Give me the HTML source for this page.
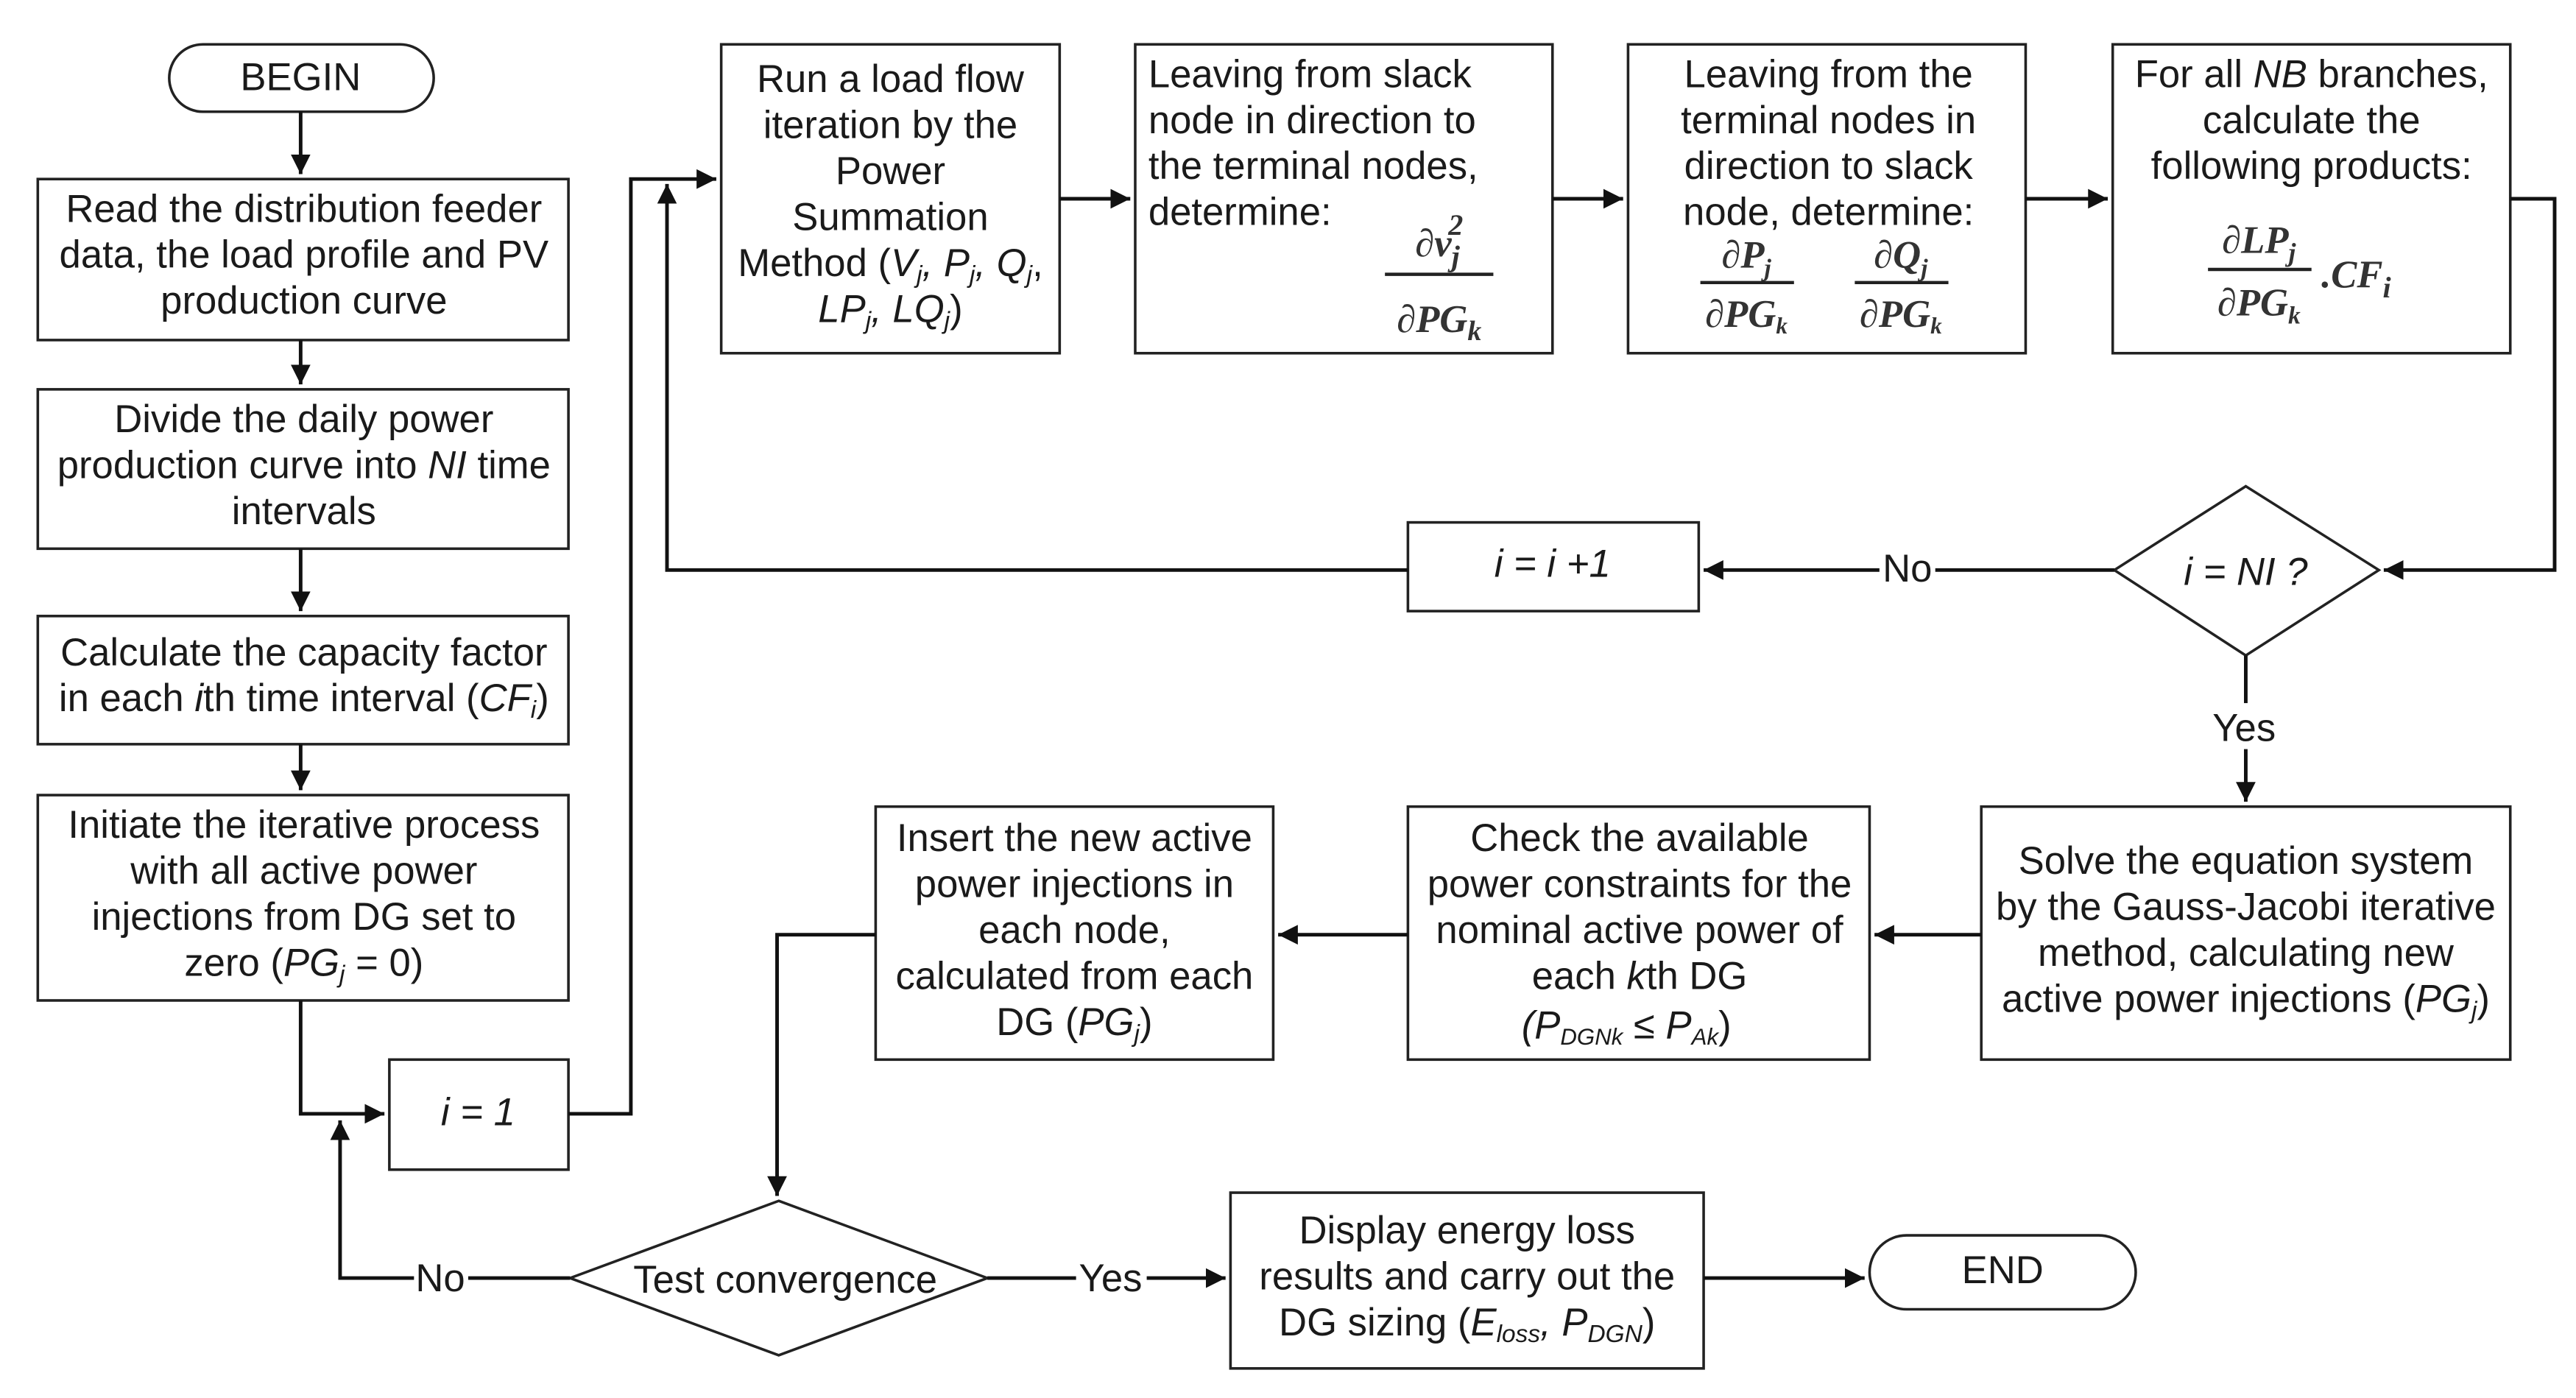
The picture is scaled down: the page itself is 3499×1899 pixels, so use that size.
<!DOCTYPE html>
<html><head><meta charset="utf-8"><style>
html,body{margin:0;padding:0;background:#fff}
svg{display:block}
text{font-family:"Liberation Sans",sans-serif;font-size:23.6px;fill:#1a1a1a}
.m{font-family:"Liberation Serif",serif;font-style:italic;font-weight:bold;fill:#333}
</style></head><body>
<svg width="3499" height="1899" viewBox="0 0 1568 851" xmlns="http://www.w3.org/2000/svg">
<defs><marker id="a" viewBox="0 0 10 10" refX="10" refY="5" markerWidth="12" markerHeight="12" markerUnits="userSpaceOnUse" orient="auto"><path d="M0,0L10,5L0,10z" fill="#111"/></marker></defs>
<g fill="#fff" stroke="#222" stroke-width="1.6">
<rect x="103" y="27" width="161" height="41" rx="20.5"/>
<rect x="23" y="109" width="323" height="98"/>
<rect x="23" y="237" width="323" height="97"/>
<rect x="23" y="375" width="323" height="78"/>
<rect x="23" y="484" width="323" height="125"/>
<rect x="237" y="645" width="109" height="67"/>
<rect x="439" y="27" width="206" height="188"/>
<rect x="691" y="27" width="254" height="188"/>
<rect x="991" y="27" width="242" height="188"/>
<rect x="1286" y="27" width="242" height="188"/>
<polygon points="1367,296 1448,347 1367,399 1287,347"/>
<rect x="857" y="318" width="177" height="54"/>
<rect x="1206" y="491" width="322" height="154"/>
<rect x="857" y="491" width="281" height="154"/>
<rect x="533" y="491" width="242" height="154"/>
<polygon points="474,731 601,778 474,825 347,778"/>
<rect x="749" y="726" width="288" height="107"/>
<rect x="1138" y="752" width="162" height="45" rx="22.5"/>
</g>
<g fill="none" stroke="#111" stroke-width="2.2">
<path d="M183,68V106" marker-end="url(#a)"/>
<path d="M183,207V234" marker-end="url(#a)"/>
<path d="M183,334V372" marker-end="url(#a)"/>
<path d="M183,453V481" marker-end="url(#a)"/>
<path d="M183,609V678H234" marker-end="url(#a)"/>
<path d="M347,778H207V682" marker-end="url(#a)"/>
<path d="M346,678H384V109H436" marker-end="url(#a)"/>
<path d="M857,347H406V112" marker-end="url(#a)"/>
<path d="M645,121H688" marker-end="url(#a)"/>
<path d="M945,121H988" marker-end="url(#a)"/>
<path d="M1233,121H1283" marker-end="url(#a)"/>
<path d="M1528,121H1555V347H1451" marker-end="url(#a)"/>
<path d="M1287,347H1037" marker-end="url(#a)"/>
<path d="M1367,399V488" marker-end="url(#a)"/>
<path d="M1206,569H1141" marker-end="url(#a)"/>
<path d="M857,569H778" marker-end="url(#a)"/>
<path d="M533,569H473V728" marker-end="url(#a)"/>
<path d="M601,778H746" marker-end="url(#a)"/>
<path d="M1037,778H1135" marker-end="url(#a)"/>
</g>
<g fill="#fff" stroke="none">
<rect x="1144" y="333" width="34" height="26"/><rect x="1345" y="428" width="44" height="28"/>
<rect x="252" y="765" width="33" height="26"/><rect x="655" y="765" width="43" height="26"/>
</g>
<g text-anchor="middle">
<text x="183" y="55">BEGIN</text>
<text x="185" y="135">Read  the distribution feeder</text>
<text x="185" y="163">data, the load profile and PV</text>
<text x="185" y="191">production curve</text>
<text x="185" y="263">Divide the daily power</text>
<text x="185" y="291">production curve into <tspan font-style="italic">NI</tspan> time</text>
<text x="185" y="319">intervals</text>
<text x="185" y="405">Calculate the capacity factor</text>
<text x="185" y="433">in each <tspan font-style="italic">i</tspan>th time interval (<tspan font-style="italic">CF<tspan font-size="15" dy="4">i</tspan></tspan><tspan dy="-4">)</tspan></text>
<text x="185" y="510">Initiate the iterative process</text>
<text x="185" y="538">with all active power</text>
<text x="185" y="566">injections from DG set to</text>
<text x="185" y="594">zero (<tspan font-style="italic">PG<tspan font-size="15" dy="4">j</tspan></tspan><tspan dy="-4"> = 0)</tspan></text>
<text x="291" y="685" font-style="italic">i = 1</text>
<text x="542" y="56">Run a load flow</text>
<text x="542" y="84">iteration by the</text>
<text x="542" y="112">Power</text>
<text x="542" y="140">Summation</text>
<text x="542" y="168">Method (<tspan font-style="italic">V<tspan font-size="15" dy="4">j</tspan><tspan dy="-4">, P</tspan><tspan font-size="15" dy="4">j</tspan><tspan dy="-4">, Q</tspan><tspan font-size="15" dy="4">j</tspan></tspan><tspan dy="-4">,</tspan></text>
<text x="542" y="196" font-style="italic">LP<tspan font-size="15" dy="4">j</tspan><tspan dy="-4">, LQ</tspan><tspan font-size="15" dy="4">j</tspan><tspan dy="-4" font-style="normal">)</tspan></text>
<text x="1113" y="53">Leaving from the</text>
<text x="1113" y="81">terminal nodes in</text>
<text x="1113" y="109">direction to slack</text>
<text x="1113" y="137">node, determine:</text>
<text x="1407" y="53">For all <tspan font-style="italic">NB</tspan> branches,</text>
<text x="1407" y="81">calculate the</text>
<text x="1407" y="109">following products:</text>
<text x="1161" y="354">No</text>
<text x="945" y="351" font-style="italic">i = i +1</text>
<text x="1367" y="356" font-style="italic">i = NI ?</text>
<text x="1366" y="451">Yes</text>
<text x="1367" y="532">Solve the equation system</text>
<text x="1367" y="560">by the Gauss-Jacobi iterative</text>
<text x="1367" y="588">method, calculating new</text>
<text x="1367" y="616">active power injections (<tspan font-style="italic">PG<tspan font-size="15" dy="4">j</tspan></tspan><tspan dy="-4">)</tspan></text>
<text x="998" y="518">Check the available</text>
<text x="998" y="546">power constraints for the</text>
<text x="998" y="574">nominal active power of</text>
<text x="998" y="602">each <tspan font-style="italic">k</tspan>th DG</text>
<text x="990" y="632" font-family="Liberation Serif" font-style="italic">(P<tspan font-size="14" dy="4">DGNk</tspan><tspan dy="-4"> ≤ P</tspan><tspan font-size="14" dy="4">Ak</tspan><tspan dy="-4" font-style="normal">)</tspan></text>
<text x="654" y="518">Insert the new active</text>
<text x="654" y="546">power injections in</text>
<text x="654" y="574">each node,</text>
<text x="654" y="602">calculated from each</text>
<text x="654" y="630">DG (<tspan font-style="italic">PG<tspan font-size="15" dy="4">j</tspan></tspan><tspan dy="-4">)</tspan></text>
<text x="268" y="786">No</text>
<text x="478" y="787">Test convergence</text>
<text x="676" y="786">Yes</text>
<text x="893" y="757">Display energy loss</text>
<text x="893" y="785">results and carry out the</text>
<text x="893" y="813">DG sizing (<tspan font-style="italic">E<tspan font-size="15" dy="4">loss</tspan><tspan dy="-4">, P</tspan><tspan font-size="15" dy="4">DGN</tspan></tspan><tspan dy="-4">)</tspan></text>
<text x="1219" y="781">END</text>
</g>
<text x="699" y="53">Leaving from slack</text>
<text x="699" y="81">node in direction to</text>
<text x="699" y="109">the terminal nodes,</text>
<text x="699" y="137">determine:</text>
<g text-anchor="middle">
<text class="m" x="876" y="156" font-size="28">∂v<tspan font-size="18" dy="6">j</tspan><tspan font-size="18" dx="-7" dy="-19">2</tspan></text>
<text class="m" x="876" y="202" font-size="25">∂PG<tspan font-size="17" dy="5">k</tspan></text>
<text class="m" x="1063" y="163" font-size="22">∂P<tspan font-size="15" dy="5">j</tspan></text>
<text class="m" x="1063" y="199" font-size="20">∂PG<tspan font-size="14" dy="4">k</tspan></text>
<text class="m" x="1157" y="163" font-size="22">∂Q<tspan font-size="15" dy="5">j</tspan></text>
<text class="m" x="1157" y="199" font-size="20">∂PG<tspan font-size="14" dy="4">k</tspan></text>
<text class="m" x="1375" y="154" font-size="23">∂LP<tspan font-size="16" dy="5">j</tspan></text>
<text class="m" x="1375" y="192" font-size="22">∂PG<tspan font-size="15" dy="5">k</tspan></text>
</g>
<text class="m" x="1413" y="175" font-size="28">.CF<tspan font-size="18" dy="6">i</tspan></text>
<g stroke="#222" stroke-width="2">
<path d="M843,167H909"/><path d="M1035,172H1092"/><path d="M1129,172H1186"/><path d="M1344,164H1407"/>
</g>
</svg>
</body></html>
